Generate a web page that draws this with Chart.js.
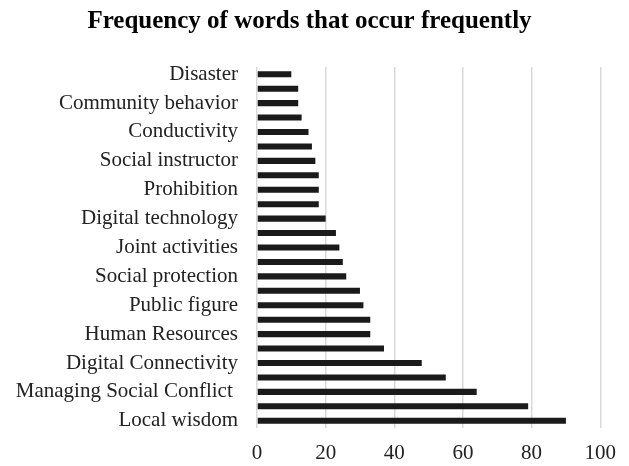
<!DOCTYPE html>
<html>
<head>
<meta charset="utf-8">
<title>Frequency of words that occur frequently</title>
<script src="https://cdn.jsdelivr.net/npm/chart.js@4"></script>
<style>
  html, body { margin: 0; padding: 0; background: #fff; }
  #chart { display: block; }
</style>
</head>
<body>
<canvas id="chart" width="629" height="466"></canvas>
<script>
// 上から順に並べたカテゴリ（ラベルが表示されていない行は空文字）
var categories = [
  'Disaster', '', 'Community behavior', '', 'Conductivity', '',
  'Social instructor', '', 'Prohibition', '', 'Digital technology', '',
  'Joint activities', '', 'Social protection', '', 'Public figure', '',
  'Human Resources', '', 'Digital Connectivity', '', 'Managing Social Conflict ', '',
  'Local wisdom'
];
var frequencies = [
  10, 12, 12, 13, 15, 16,
  17, 18, 18, 18, 20, 23,
  24, 25, 26, 30, 31, 33,
  33, 37, 48, 55, 64, 79,
  90
];
var xTicks = [0, 20, 40, 60, 80, 100];

var serif = "'Liberation Serif', 'Times New Roman', serif";

var ctx = document.getElementById('chart').getContext('2d');
new Chart(ctx, {
  type: 'bar',
  data: {
    labels: categories,
    datasets: [{
      label: 'Frequency',
      data: frequencies,
      backgroundColor: '#1a1a1a',
      borderWidth: 0,
      barPercentage: 0.42,
      categoryPercentage: 1
    }]
  },
  options: {
    indexAxis: 'y',
    responsive: false,
    animation: false,
    layout: {
      padding: { top: 7, right: 24, bottom: 0, left: 14 }
    },
    scales: {
      x: {
        min: 0,
        max: 100,
        afterBuildTicks: function(scale) {
          scale.ticks = xTicks.map(function(v) { return { value: v }; });
        },
        // 下側の余白を固定して描画領域を合わせる
        afterFit: function(scale) { scale.height = 38; },
        grid: {
          color: '#d9d9d9',
          lineWidth: 1.5,
          drawTicks: false
        },
        border: { display: false },
        ticks: {
          padding: 13,
          color: '#222',
          font: { family: serif, size: 21 }
        }
      },
      y: {
        afterFit: function(scale) { scale.width = 243; },
        grid: { display: false, drawTicks: false },
        border: { display: false },
        ticks: {
          autoSkip: false,
          padding: 19,
          color: '#222',
          font: { family: serif, size: 21 }
        }
      }
    },
    plugins: {
      legend: { display: false },
      tooltip: { enabled: false },
      title: {
        display: true,
        text: 'Frequency of words that occur frequently',
        color: '#000',
        font: { family: serif, size: 25, weight: 'bold' },
        padding: { top: 0, bottom: 30 }
      }
    }
  }
});
</script>
</body>
</html>
